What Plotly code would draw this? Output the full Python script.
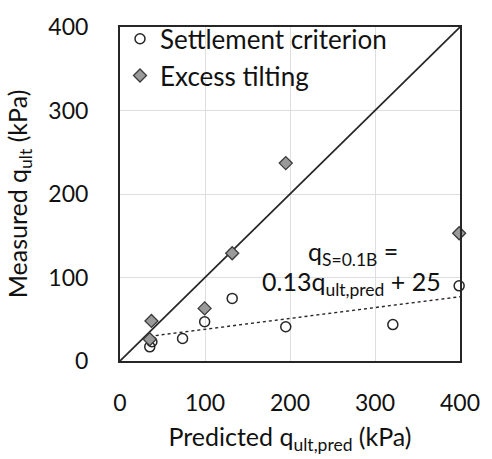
import plotly.graph_objects as go

# Settlement criterion (open circles)
pred_settle = [35, 37.5, 73.6, 99.6, 132, 195, 321, 399]
meas_settle = [17, 23, 27, 47, 75, 41, 43.6, 90]

# Excess tilting (grey diamonds)
pred_tilt = [35, 37, 99.6, 132, 195, 399]
meas_tilt = [26, 48, 63, 129, 237, 153]

# Trend line q = 0.13 q_pred + 25
fit_slope = 0.13
fit_intercept = 25
fit_x = [35, 400]
fit_y = [fit_slope * x + fit_intercept for x in fit_x]

# 1:1 line
one_x = [0, 400]
one_y = [0, 400]

tick_vals = [0, 100, 200, 300, 400]
FONT = "Lato"

fig = go.Figure()
fig.add_trace(go.Scatter(x=one_x, y=one_y, mode="lines",
                         line=dict(color="#262626", width=1.7), showlegend=False, hoverinfo="skip"))
fig.add_trace(go.Scatter(x=fit_x, y=fit_y, mode="lines",
                         line=dict(color="#262626", width=1.4, dash="dot"), showlegend=False, hoverinfo="skip"))
fig.add_trace(go.Scatter(x=pred_settle, y=meas_settle, mode="markers", name="Settlement criterion",
                         cliponaxis=False,
                         marker=dict(symbol="circle-open", size=10, color="#262626", line=dict(width=1.5))))
fig.add_trace(go.Scatter(x=pred_tilt, y=meas_tilt, mode="markers", name="Excess tilting",
                         cliponaxis=False,
                         marker=dict(symbol="diamond", size=10, color="#9a9a9a",
                                     line=dict(color="#3a3a3a", width=1.3))))

fig.add_annotation(x=274, y=129, xref="x", yref="y", text="q<sub>S=0.1B</sub> =",
                   showarrow=False, font=dict(family=FONT, size=25, color="#111"))
fig.add_annotation(x=272, y=94, xref="x", yref="y", text="0.13q<sub>ult,pred</sub> + 25",
                   showarrow=False, font=dict(family=FONT, size=25, color="#111"))

axis_common = dict(range=[0, 400], tickvals=tick_vals, showgrid=True, gridcolor="#dedede", gridwidth=1,
                   showline=True, linecolor="#262626", linewidth=2, mirror=True, ticks="",
                   zeroline=False, tickfont=dict(family=FONT, size=23, color="#111"))

fig.update_xaxes(**axis_common, ticklabelstandoff=20,
                 title=dict(text="Predicted q<sub>ult,pred</sub> (kPa)",
                            font=dict(family=FONT, size=25, color="#111"), standoff=14))
fig.update_yaxes(**axis_common, ticklabelstandoff=25,
                 title=dict(text="Measured q<sub>ult</sub> (kPa)",
                            font=dict(family=FONT, size=25, color="#111"), standoff=14))

fig.update_layout(
    width=492, height=459,
    margin=dict(l=120, r=24, t=18, b=93),
    plot_bgcolor="white", paper_bgcolor="white",
    legend=dict(x=0.0, y=1.035, xanchor="left", yanchor="top", bgcolor="rgba(0,0,0,0)",
                font=dict(family=FONT, size=26, color="#111"), itemwidth=30),
)

fig.write_html("out.html")
